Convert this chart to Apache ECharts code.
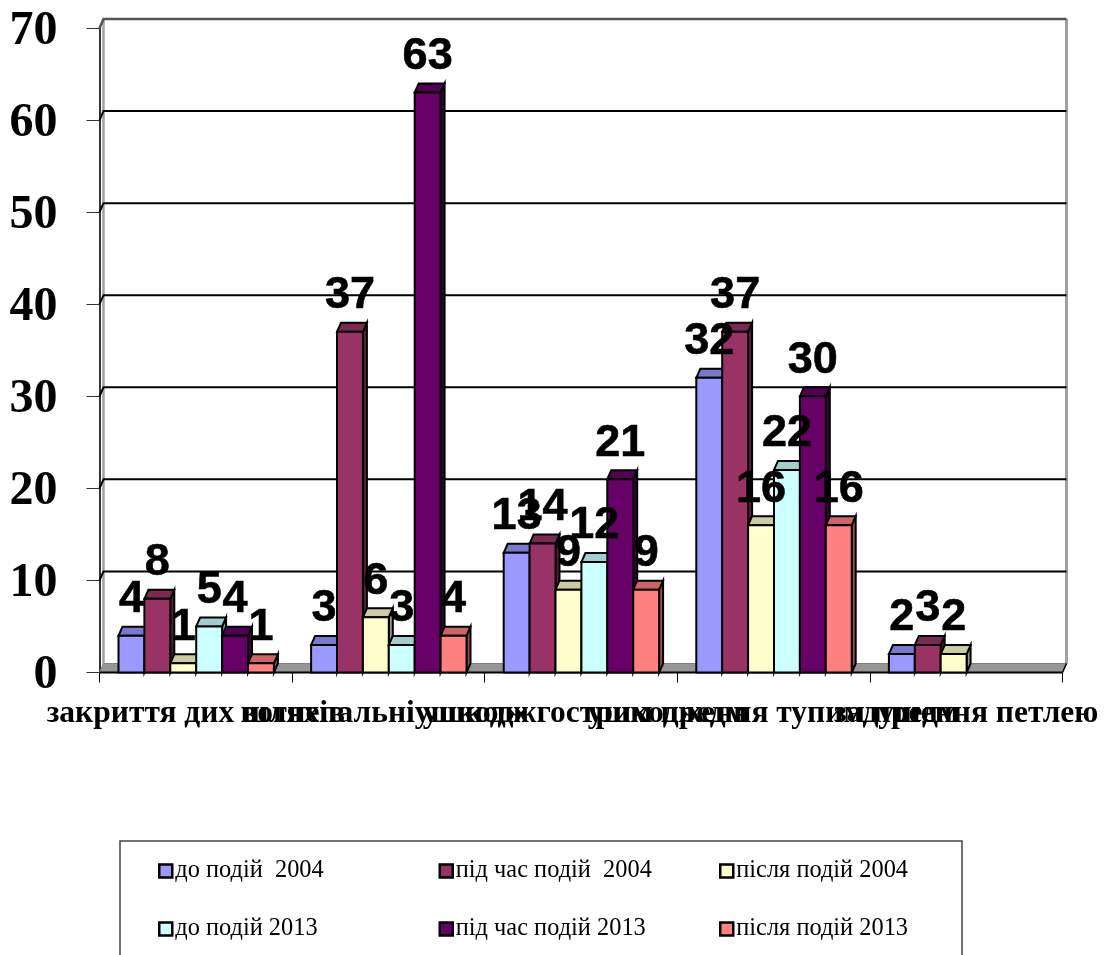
<!DOCTYPE html>
<html>
<head>
<meta charset="utf-8">
<style>html,body{margin:0;padding:0;background:#fff;overflow:hidden}#c{width:1115px;height:955px}</style>
<script src="https://cdn.jsdelivr.net/npm/echarts@6/dist/echarts.min.js"></script>
</head>
<body>
<div id="c"></div>
<script>
var categories = ['закриття дих шляхів', 'вогнепальні ушкодж', 'ушкодж гострим предм', 'ушкодження тупим предм', 'задушення петлею'];
var before2004 = [4, 3, 13, 32, 2];
var during2004 = [8, 37, 14, 37, 3];
var after2004 = [1, 6, 9, 16, 2];
var before2013 = [5, 3, 12, 22, null];
var during2013 = [4, 63, 21, 30, null];
var after2013 = [1, 4, 9, 16, null];
var seriesNames = ['до подій  2004', 'під час подій  2004', 'після подій 2004', 'до подій 2013', 'під час подій 2013', 'після подій 2013'];
var seriesValues = [before2004, during2004, after2004, before2013, during2013, after2013];
var frontColors = ['#9999FF', '#993366', '#FFFFCC', '#CCFFFF', '#660066', '#FF8080'];
var topColors = ['#7A7ACC', '#7A2952', '#CCCCA3', '#A3CCCC', '#520052', '#CC6666'];
var sideColors = ['#5C5C99', '#5C1F3D', '#99997A', '#7A9999', '#3D003D', '#994D4D'];
var gridTicks = [10, 20, 30, 40, 50, 60];

var DX = 4, DY = 9, BAR = 25.9, PAD = 19;

function pts(list, fill, stroke, w, z2) {
  return { type: 'polygon', shape: { points: list }, z2: z2 || 0,
    style: { fill: fill, stroke: stroke, lineWidth: w, lineJoin: 'miter' } };
}
function line(list, stroke, w) {
  return { type: 'polyline', shape: { points: list }, style: { fill: 'none', stroke: stroke, lineWidth: w } };
}

var series = [];

// walls, floor
series.push({
  type: 'custom', coordinateSystem: 'cartesian2d', silent: true, clip: false, z: 1,
  data: [[0, 0]], encode: { x: 0, y: 1 },
  renderItem: function (params, api) {
    var c = params.coordSys, y0 = api.coord([0, 0])[1], y70 = api.coord([0, 70])[1];
    var L = c.x, R = c.x + c.width;
    var ch = [];
    ch.push(line([[L + DX, y0 - DY], [L + DX, y70 - DY]], '#A0A0A0', 2.5));
    ch.push(line([[R + DX, y0 - DY], [R + DX, y70 - DY]], '#A0A0A0', 3));
    ch.push(pts([[L, y0], [L + DX, y0 - DY], [R + DX, y0 - DY], [R, y0]], '#969696', '#808080', 1));
    ch.push(line([[L, y70], [L + DX, y70 - DY], [R + DX, y70 - DY]], '#555555', 2.5));
    ch.push(line([[L, y0], [R, y0]], '#000', 2));
    ch.push(line([[R, y0], [R + DX, y0 - DY]], '#000', 1.5));
    return { type: 'group', children: ch };
  }
});

// gridlines
series.push({
  type: 'custom', coordinateSystem: 'cartesian2d', silent: true, clip: false, z: 2,
  data: gridTicks.map(function (v) { return [0, v]; }), encode: { x: 0, y: 1 },
  renderItem: function (params, api) {
    var c = params.coordSys, y = api.coord([0, api.value(1)])[1];
    return line([[c.x, y], [c.x + DX, y - DY], [c.x + c.width + DX, y - DY]], '#000', 2);
  }
});

// bars
seriesValues.forEach(function (vals, s) {
  series.push({
    type: 'custom', name: seriesNames[s], coordinateSystem: 'cartesian2d', clip: false, z: 3 + s, silent: true,
    itemStyle: { color: frontColors[s], borderColor: '#000', borderWidth: 2 },
    data: vals.map(function (v, i) { return [i, v]; }).filter(function (d) { return d[1] !== null; }),
    encode: { x: 0, y: 1 },
    renderItem: function (params, api) {
      var p = api.coord([api.value(0), api.value(1)]), b = api.coord([api.value(0), 0]);
      var band = api.size([1, 0])[0];
      var x0 = p[0] - band / 2 + PAD + s * BAR, x1 = x0 + BAR, yt = p[1], yb = b[1];
      return { type: 'group', children: [
        pts([[x1, yb], [x1 + DX, yb - DY], [x1 + DX, yt - DY], [x1, yt]], sideColors[s], '#000', 2),
        pts([[x0, yt], [x0 + DX, yt - DY], [x1 + DX, yt - DY], [x1, yt]], topColors[s], '#000', 2),
        pts([[x0, yb], [x0, yt], [x1, yt], [x1, yb]], frontColors[s], '#000', 2)
      ] };
    }
  });
});

// value labels
seriesValues.forEach(function (vals, s) {
  series.push({
    type: 'custom', coordinateSystem: 'cartesian2d', clip: false, z: 20, silent: true,
    data: vals.map(function (v, i) { return [i, v]; }).filter(function (d) { return d[1] !== null; }),
    encode: { x: 0, y: 1 },
    renderItem: function (params, api) {
      var p = api.coord([api.value(0), api.value(1)]);
      var band = api.size([1, 0])[0];
      var cx = p[0] - band / 2 + PAD + s * BAR + BAR / 2;
      return { type: 'text', style: { text: String(api.value(1)), x: cx, y: p[1] - 13.5,
        fill: '#000', stroke: '#000', lineWidth: 0.6, font: 'bold 45px "Liberation Sans"', align: 'center', verticalAlign: 'bottom' } };
    }
  });
});

var legends = seriesNames.map(function (n, i) {
  return {
    data: [n], selectedMode: false, orient: 'horizontal',
    left: 158 + (i % 3) * 280.5, top: i < 3 ? 859 : 917,
    itemWidth: 13, itemHeight: 13, padding: 0,
    icon: 'rect',
    itemStyle: { color: frontColors[i], borderColor: '#000', borderWidth: 2.5 },
    textStyle: { fontFamily: '"Liberation Serif"', fontSize: 24.4, color: '#000', padding: [1, 0, 0, -2] }
  };
});

var chart = echarts.init(document.getElementById('c'), null, { renderer: 'canvas' });
chart.setOption({
  animation: false,
  backgroundColor: '#fff',
  grid: { left: 99.5, right: 52.5, top: 28, bottom: 282.5, containLabel: false },
  xAxis: {
    type: 'category', data: categories,
    axisLine: { show: false },
    axisTick: { show: true, length: 10, lineStyle: { color: '#000', width: 1 } },
    axisLabel: { interval: 0, hideOverlap: false, margin: 25, color: '#000',
      fontFamily: '"Liberation Serif"', fontWeight: 'bold', fontSize: 31.5 }
  },
  yAxis: {
    type: 'value', min: 0, max: 70, interval: 10,
    axisLine: { show: true, lineStyle: { color: '#333', width: 2 } },
    axisTick: { show: true, length: 13, lineStyle: { color: '#333', width: 1 } },
    splitLine: { show: false },
    axisLabel: { margin: 42, color: '#000', fontFamily: '"Liberation Serif"', fontWeight: 'bold', fontSize: 48, verticalAlign: 'top', lineHeight: 7 }
  },
  legend: legends,
  tooltip: { show: false },
  graphic: [{ type: 'rect', silent: true, z: 0,
    shape: { x: 120, y: 841, width: 842, height: 200 },
    style: { fill: '#fff', stroke: '#444', lineWidth: 1.5 } }],
  series: series
});
</script>
</body>
</html>
